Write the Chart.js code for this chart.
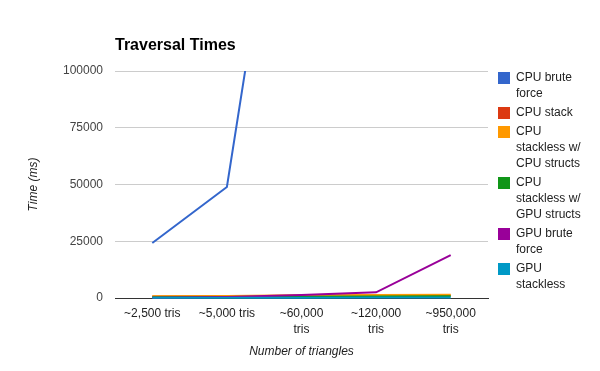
<!DOCTYPE html>
<html><head><meta charset="utf-8">
<script src="https://cdn.jsdelivr.net/npm/chart.js@4"></script>
<style>
html,body{margin:0;padding:0;background:#fff;}
#wrap{position:relative;width:600px;height:371px;font-family:Arial,"Liberation Sans",sans-serif;overflow:hidden;}
canvas{position:absolute;left:0;top:0;}
#title{position:absolute;left:115px;top:35px;font-size:16px;font-weight:bold;color:#000;line-height:20px;white-space:nowrap;}
#legend{position:absolute;left:498px;top:68.5px;font-size:12px;color:#222;}
.item{display:flex;align-items:flex-start;margin-bottom:3px;}
.sw{width:12px;height:12px;margin-right:6px;margin-top:3px;flex:none;}
.txt{width:72px;line-height:16px;}
</style></head>
<body>
<div id="wrap">
<canvas id="c" width="600" height="371"></canvas>
<div id="title">Traversal Times</div>
<div id="legend"></div>
</div>
<script>
const categories = [["~2,500 tris"], ["~5,000 tris"], ["~60,000", "tris"], ["~120,000", "tris"], ["~950,000", "tris"]];
const seriesNames = ["CPU brute force", "CPU stack", "CPU stackless w/ CPU structs", "CPU stackless w/ GPU structs", "GPU brute force", "GPU stackless"];
const seriesColors = ["#3366cc", "#dc3912", "#ff9900", "#109618", "#990099", "#0099c6"];
const cpuBruteForce = [24200, 48900, 258000, 520000, 4100000];
const cpuStack = [700, 800, 1000, 1100, 1100];
const cpuStacklessCpuStructs = [800, 900, 1200, 1300, 1400];
const cpuStacklessGpuStructs = [300, 400, 600, 700, 800];
const gpuBruteForce = [150, 400, 1300, 2500, 18900];
const gpuStackless = [80, 100, 150, 200, 250];
const yTicks = [0, 25000, 50000, 75000, 100000];
const xTitle = "Number of triangles";
const yTitle = "Time (ms)";

const seriesValues = [cpuBruteForce, cpuStack, cpuStacklessCpuStructs, cpuStacklessGpuStructs, gpuBruteForce, gpuStackless];
const FONT = 'Arial, "Liberation Sans", sans-serif';

const datasets = seriesNames.map((name, i) => ({
  label: name,
  data: seriesValues[i],
  borderColor: seriesColors[i],
  backgroundColor: seriesColors[i],
  borderWidth: 2,
  pointRadius: 0,
  tension: 0,
  fill: false,
  order: -i,
  clip: {left: 5, right: 5, top: 0, bottom: 5}
}));

new Chart(document.getElementById('c'), {
  type: 'line',
  data: {labels: categories, datasets},
  options: {
    responsive: false,
    animation: false,
    layout: {padding: {top: 71, right: 112, left: 0, bottom: 0}},
    plugins: {legend: {display: false}, title: {display: false}, tooltip: {enabled: false}},
    scales: {
      x: {
        offset: true,
        grid: {display: false, drawTicks: false},
        border: {display: true, color: '#333', width: 1},
        ticks: {color: '#222', font: {size: 12, family: FONT, lineHeight: 1.3333}, padding: 8, maxRotation: 0, autoSkip: false},
        title: {display: true, text: xTitle, color: '#222', font: {size: 12, style: 'italic', family: FONT}, padding: {top: 4, bottom: 12}},
        afterFit(s) { s.height = 73; }
      },
      y: {
        min: 0, max: 100000,
        afterBuildTicks(s) { s.ticks = yTicks.map(v => ({value: v})); },
        ticks: {color: '#444', padding: 12, font: {size: 12, family: FONT}, callback: v => String(v)},
        grid: {color: ctx => (ctx.tick && ctx.tick.value === 0) ? '#333' : '#cccccc', drawTicks: false, lineWidth: 1},
        border: {display: false},
        title: {display: true, text: yTitle, color: '#222', font: {size: 12, style: 'italic', family: FONT}, padding: {top: 26, bottom: 0}},
        afterFit(s) { s.width = 115; }
      }
    }
  }
});

const legend = document.getElementById('legend');
seriesNames.forEach((name, i) => {
  const item = document.createElement('div');
  item.className = 'item';
  const sw = document.createElement('div');
  sw.className = 'sw';
  sw.style.background = seriesColors[i];
  const txt = document.createElement('div');
  txt.className = 'txt';
  txt.textContent = name;
  item.appendChild(sw);
  item.appendChild(txt);
  legend.appendChild(item);
});
</script>
</body></html>
